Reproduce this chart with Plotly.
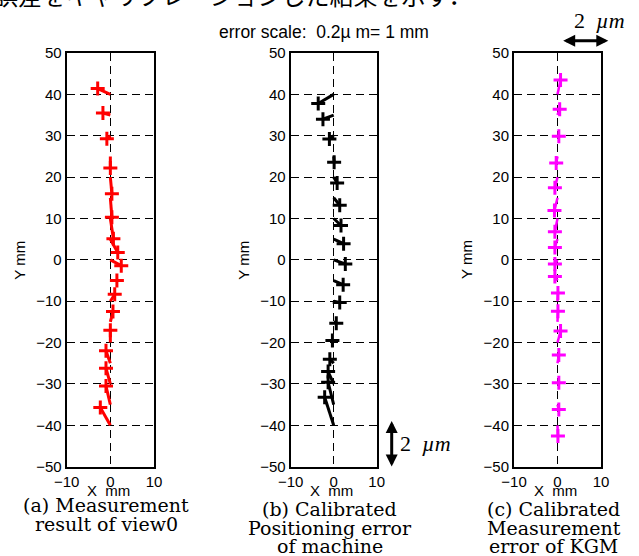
import plotly.graph_objects as go

W, H = 639, 556

# nominal grid positions along Y (mm); all nominal points lie on X = 0
y_nominal = [40, 35, 30, 25, 20, 15, 10, 5, 0, -5, -10, -15, -20, -25, -30, -35, -40]
x_nominal = 0.0

# (a) Measurement result of view0 -- displayed (scaled) positions
a_x = [-2.9, -1.7, -0.8, 0.0, 0.35, 0.35, 0.7, 1.7, 2.5, 1.5, 1.0, 0.6, 0.0, -1.0, -1.0, -1.0, -2.3]
a_y = [41.4, 35.5, 29.3, 22.2, 16.0, 10.3, 5.1, 1.8, -1.4, -5.0, -8.3, -12.5, -17.0, -22.0, -26.2, -30.5, -35.7]

# (b) Calibrated positioning error of machine
b_x = [-3.6, -2.5, -1.0, 0.1, 0.8, 1.4, 1.7, 2.3, 2.7, 2.2, 1.4, 0.6, -0.3, -0.9, -1.3, -1.3, -2.1]
b_y = [37.8, 34.0, 29.2, 23.6, 18.6, 13.2, 8.3, 3.9, -1.0, -6.0, -10.3, -15.3, -19.5, -24.0, -27.0, -29.6, -33.2]

# (c) Calibrated measurement error of KGM
c_x = [0.7, 0.5, 0.3, -0.3, -0.6, -0.7, -0.6, -0.6, -0.6, -0.6, 0.1, 0.1, 0.7, 0.3, 0.3, 0.3, 0.1]
c_y = [43.5, 36.4, 29.9, 23.4, 17.4, 11.9, 6.8, 3.0, -1.0, -4.0, -8.0, -12.4, -17.2, -23.0, -29.7, -36.2, -42.6]

x_ticks = [-10, 0, 10]
y_ticks = [-50, -40, -30, -20, -10, 0, 10, 20, 30, 40, 50]

captions = [
    ["(a) Measurement", "result of view0"],
    ["(b) Calibrated", "Positioning error", "of machine"],
    ["(c) Calibrated", "Measurement", "error of KGM"],
]
heading = "誤差をキャリブレーションした結果を示す．"
scale_note = "error scale:  0.2µ m= 1 mm"
bar_label = "2\u00a0 <i>µm</i>"

colors = ["#ff0000", "#000000", "#ff00ff"]
series = [(a_x, a_y), (b_x, b_y), (c_x, c_y)]

# layout in pixels
x_dom_px = [(66.7, 154.0), (290.7, 376.7), (514.0, 601.0)]
y_top_px, y_bot_px = 53.0, 466.7
cap_base_px = [[505.0, 524.0], [509.0, 528.0, 546.0], [509.0, 528.0, 546.0]]


def px(x):
    return x / W


def py(y):
    return 1 - y / H


fig = go.Figure()
for i, ((xs_m, ys_m), col) in enumerate(zip(series, colors)):
    ax = "x" if i == 0 else f"x{i+1}"
    ay = "y" if i == 0 else f"y{i+1}"
    lx, ly = [], []
    for yn, xm, ym in zip(y_nominal, xs_m, ys_m):
        lx += [x_nominal, xm, None]
        ly += [yn, ym, None]
    fig.add_trace(go.Scatter(x=lx, y=ly, mode="lines", xaxis=ax, yaxis=ay,
                             line=dict(color=col, width=3 if i < 2 else 2.5),
                             hoverinfo="skip", showlegend=False))
    fig.add_trace(go.Scatter(x=xs_m, y=ys_m, mode="markers", xaxis=ax, yaxis=ay,
                             marker=dict(symbol="cross-thin", size=10,
                                         line=dict(color=col, width=3)),
                             showlegend=False))

axis_common = dict(showline=True, linecolor="black", linewidth=2, mirror=True,
                   showgrid=True, gridcolor="black", gridwidth=1, griddash="8px,5px",
                   zeroline=False, ticks="", automargin=False,
                   tickfont=dict(family="Liberation Sans", size=15, color="black"),
                   fixedrange=True)

for i in range(3):
    sfx = "" if i == 0 else str(i + 1)
    x0, x1 = x_dom_px[i]
    fig.layout[f"xaxis{sfx}"] = dict(axis_common, domain=[px(x0), px(x1)], range=[-10, 10],
                                     tickvals=x_ticks, anchor=f"y{sfx}")
    fig.layout[f"yaxis{sfx}"] = dict(axis_common, domain=[py(y_bot_px), py(y_top_px)], range=[-50, 50],
                                     tickvals=y_ticks, anchor=f"x{sfx}")

annotations = []
for i in range(3):
    x0, x1 = x_dom_px[i]
    cx = (x0 + x1) / 2
    annotations.append(dict(text="X\u00a0 mm", x=px(cx - 2), y=py(490), xref="paper", yref="paper",
                            xanchor="center", yanchor="middle", showarrow=False,
                            font=dict(family="Liberation Sans", size=15, color="black")))
    annotations.append(dict(text="Y mm", x=px(x0 - 48), y=py(260), xref="paper", yref="paper",
                            xanchor="center", yanchor="middle", showarrow=False, textangle=-90,
                            font=dict(family="Liberation Sans", size=15, color="black")))
    for line, base in zip(captions[i], cap_base_px[i]):
        annotations.append(dict(text=line, x=px(cx - 4), y=py(base), xref="paper", yref="paper",
                                xanchor="center", yanchor="middle", showarrow=False,
                                font=dict(family="DejaVu Serif", size=19, color="black")))

# running text of the page, cut at the top edge as in the scan
annotations.append(dict(text=heading, x=px(-8), y=py(14.0), xref="paper", yref="paper",
                        xanchor="left", yanchor="bottom", showarrow=False,
                        font=dict(family="Noto Sans CJK JP", size=24, color="black")))
annotations.append(dict(text=scale_note, x=px(323.5), y=py(32), xref="paper", yref="paper",
                        xanchor="center", yanchor="middle", showarrow=False,
                        font=dict(family="Liberation Sans", size=17.5, color="black")))
# scale bars: 2 um
annotations.append(dict(text=bar_label, x=px(599), y=py(20), xref="paper", yref="paper",
                        xanchor="center", yanchor="middle", showarrow=False,
                        font=dict(family="Liberation Serif", size=22, color="black")))
annotations.append(dict(text="", x=px(608.3), y=py(40.7), xref="paper", yref="paper",
                        ax=-46.6, ay=0, axref="pixel", ayref="pixel", showarrow=True,
                        arrowhead=2, startarrowhead=2, arrowside="end+start",
                        arrowwidth=3, arrowsize=0.8, startarrowsize=0.8, arrowcolor="black",
                        standoff=0, startstandoff=0))
annotations.append(dict(text=bar_label, x=px(425), y=py(443.5), xref="paper", yref="paper",
                        xanchor="center", yanchor="middle", showarrow=False,
                        font=dict(family="Liberation Serif", size=22, color="black")))
annotations.append(dict(text="", x=px(391.7), y=py(466.5), xref="paper", yref="paper",
                        ax=0, ay=-47, axref="pixel", ayref="pixel", showarrow=True,
                        arrowhead=2, startarrowhead=2, arrowside="end+start",
                        arrowwidth=3, arrowsize=0.8, startarrowsize=0.8, arrowcolor="black",
                        standoff=0, startstandoff=0))

fig.update_layout(width=W, height=H, margin=dict(l=0, r=0, t=0, b=0),
                  paper_bgcolor="white", plot_bgcolor="white",
                  annotations=annotations, showlegend=False)

fig.write_html("out.html", config={"displayModeBar": False},
               post_script="document.body.style.margin='0';")
